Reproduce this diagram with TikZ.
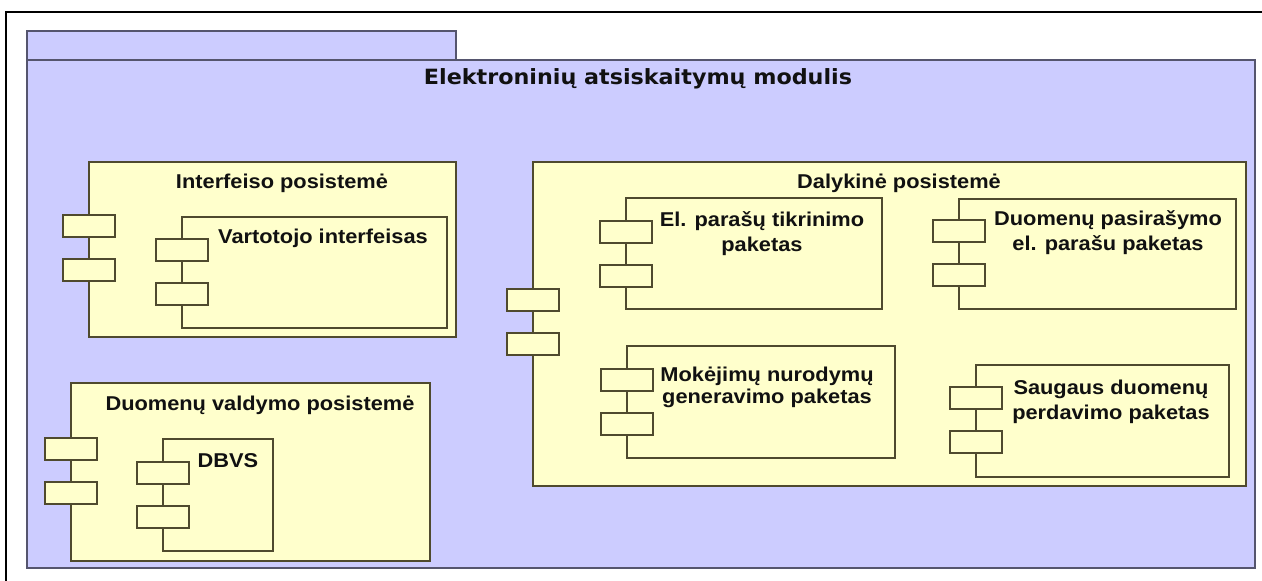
\documentclass[tikz,border=0pt]{standalone}
\usepackage{fontspec}
\newfontfamily\labfont{Liberation Sans}[FakeStretch=1.09]
\newfontfamily\ttlfont{DejaVu Sans}[FakeStretch=1.06]

\definecolor{lav}{HTML}{CCCCFF}
\definecolor{lavline}{HTML}{55556E}
\definecolor{yel}{HTML}{FFFFCC}
\definecolor{yelline}{HTML}{4F4A2E}
\definecolor{ink}{HTML}{111111}

% component box with two port rectangles on its left edge:
% name, left, top, right, bottom, top of first port
\newcommand\umlcomp[6]{%
  \node[comp, minimum width={(#4-#2)*1pt}, minimum height={(#5-#3)*1pt}] (#1) at (#2,#3) {};
  \node[portbox] (#1-p1) at (#2,#6) {};
  \node[portbox] (#1-p2) at (#2,#6+44) {};
}
\newcommand\twoline[2]{\begin{tabular}[t]{@{}c@{}}#1\\#2\end{tabular}}

\begin{document}
\begin{tikzpicture}[x=1pt,y=-1pt,
  pkg/.style={draw=lavline, fill=lav, line width=1.4pt, inner sep=0pt, outer sep=0pt, anchor=north west},
  comp/.style={draw=yelline, fill=yel, line width=1.4pt, inner sep=0pt, outer sep=0pt, anchor=north west},
  portbox/.style={comp, anchor=north, minimum width=52pt, minimum height=22pt},
  lbl/.style={anchor=base, inner sep=0pt, text=ink, font=\labfont\bfseries\fontsize{20}{25}\selectfont},
  ttl/.style={anchor=base, inner sep=0pt, text=ink, font=\ttlfont\bfseries\fontsize{21}{25}\selectfont}]

\useasboundingbox (0,0) rectangle (1262,581);
\fill[white] (0,0) rectangle (1262,581);

% outer frame
\draw[line width=2.6pt, line join=miter] (6,581) -- (6,12) -- (1262,12);

% package with tab
\node[pkg, minimum width=429pt, minimum height=29pt] (tab) at (27,31) {};
\node[pkg, minimum width=1228pt, minimum height=508pt] (mod) at (27,60) {};
\node[ttl] (mod-t) at (638,84) {Elektroninių atsiskaitymų modulis};

% interface subsystem
\umlcomp{ifc}{89}{162}{456}{337}{215}
\node[lbl] (ifc-t) at (282,188) {Interfeiso posistemė};
\umlcomp{ui}{182}{217}{447}{328}{239}
\node[lbl] (ui-t) at (323,243) {Vartotojo interfeisas};

% data management subsystem
\umlcomp{dm}{71}{383}{430}{561}{438}
\node[lbl] (dm-t) at (260,410) {Duomenų valdymo posistemė};
\umlcomp{dbvs}{163}{439}{273}{551}{462}
\node[lbl] (dbvs-t) at (228,467) {DBVS};

% domain subsystem
\umlcomp{dal}{533}{162}{1246}{486}{289}
\node[lbl] (dal-t) at (899,188) {Dalykinė posistemė};

\umlcomp{sig}{626}{198}{882}{309}{221}
\node[lbl] (sig-t) at (762,226) {\twoline{El. parašų tikrinimo}{paketas}};

\umlcomp{sign}{959}{199}{1236}{309}{220}
\node[lbl] (sign-t) at (1108,225) {\twoline{Duomenų pasirašymo}{el. parašu paketas}};

\umlcomp{pay}{627}{346}{895}{458}{369}
\node[lbl, font=\labfont\bfseries\fontsize{20}{22}\selectfont] (pay-t) at (767,381) {\twoline{Mokėjimų nurodymų}{generavimo paketas}};

\umlcomp{sec}{976}{365}{1229}{477}{387}
\node[lbl] (sec-t) at (1111,394) {\twoline{Saugaus duomenų}{perdavimo paketas}};
\end{tikzpicture}
\end{document}
